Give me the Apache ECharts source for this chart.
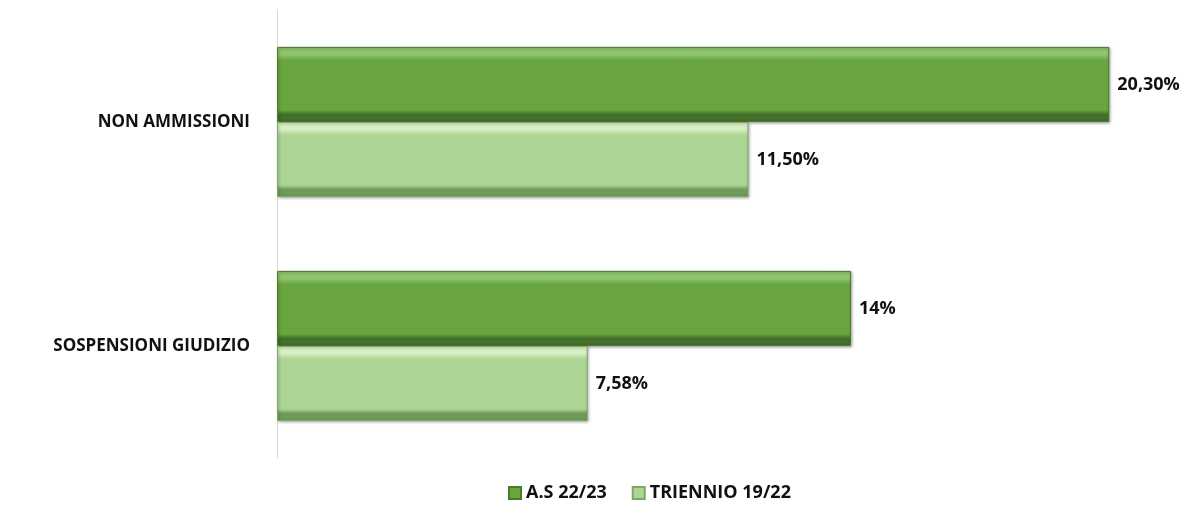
<!DOCTYPE html>
<html>
<head>
<meta charset="utf-8">
<script src="https://cdn.jsdelivr.net/npm/echarts@6/dist/echarts.min.js"></script>
<style>
  html, body { margin: 0; padding: 0; background: #fff; }
  #chart { width: 1196px; height: 520px; }
</style>
</head>
<body>
<div id="chart"></div>
<script>
const categories = ["NON AMMISSIONI", "SOSPENSIONI GIUDIZIO"];
const seriesNames = ["A.S 22/23", "TRIENNIO 19/22"];
const asValues = [20.3, 14];
const triennioValues = [11.5, 7.58];
const asLabels = ["20,30%", "14%"];
const triennioLabels = ["11,50%", "7,58%"];

const chartDom = document.getElementById("chart");
const myChart = echarts.init(chartDom);

function bevel(top, mid, bottom) {
  return new echarts.graphic.LinearGradient(0, 0, 0, 1, [
    { offset: 0, color: top },
    { offset: 0.1, color: top },
    { offset: 0.18, color: mid },
    { offset: 0.84, color: mid },
    { offset: 0.9, color: bottom },
    { offset: 1, color: bottom },
  ]);
}

const labelStyle = {
  show: true,
  position: "right",
  distance: 8,
  fontFamily: "Open Sans",
  fontWeight: "bold",
  fontSize: 18,
  color: "#111",
};

const option = {
  animation: false,
  grid: { left: 277, right: 17, top: 10, bottom: 62 },
  xAxis: {
    type: "value",
    min: 0,
    max: 22,
    show: false,
  },
  yAxis: {
    type: "category",
    data: categories,
    inverse: true,
    axisLine: { lineStyle: { color: "#d9d9d9", width: 1 } },
    axisTick: { show: false },
    axisLabel: {
      fontFamily: "Open Sans",
      fontWeight: "bold",
      fontSize: 17,
      color: "#111",
      margin: 27,
    },
  },
  legend: {
    bottom: 13,
    left: 503,
    itemWidth: 12,
    itemHeight: 12,
    itemGap: 25,
    icon: "rect",
    textStyle: { fontFamily: "Open Sans", fontWeight: "bold", fontSize: 18, color: "#111" },
    data: seriesNames,
  },
  series: [
    {
      name: seriesNames[0],
      type: "bar",
      barGap: "0%",
      barCategoryGap: "33%",
      data: asValues,
      itemStyle: {
        color: bevel("#8fc56c", "#69a53f", "#426f2a"),
        borderColor: "#4a7a2e",
        borderWidth: 1,
        shadowColor: "rgba(0,0,0,0.35)",
        shadowBlur: 3,
        shadowOffsetX: 1,
        shadowOffsetY: 1,
      },
      label: { ...labelStyle, formatter: (p) => asLabels[p.dataIndex] },
    },
    {
      name: seriesNames[1],
      type: "bar",
      data: triennioValues,
      itemStyle: {
        color: bevel("#d6efc4", "#acd493", "#6f9a57"),
        borderColor: "#7ea86a",
        borderWidth: 1,
        shadowColor: "rgba(0,0,0,0.35)",
        shadowBlur: 3,
        shadowOffsetX: 1,
        shadowOffsetY: 1,
      },
      label: { ...labelStyle, formatter: (p) => triennioLabels[p.dataIndex] },
    },
  ],
};

myChart.setOption(option);

window.addEventListener("resize", () => {
  myChart.resize();
});
</script>
</body>
</html>
